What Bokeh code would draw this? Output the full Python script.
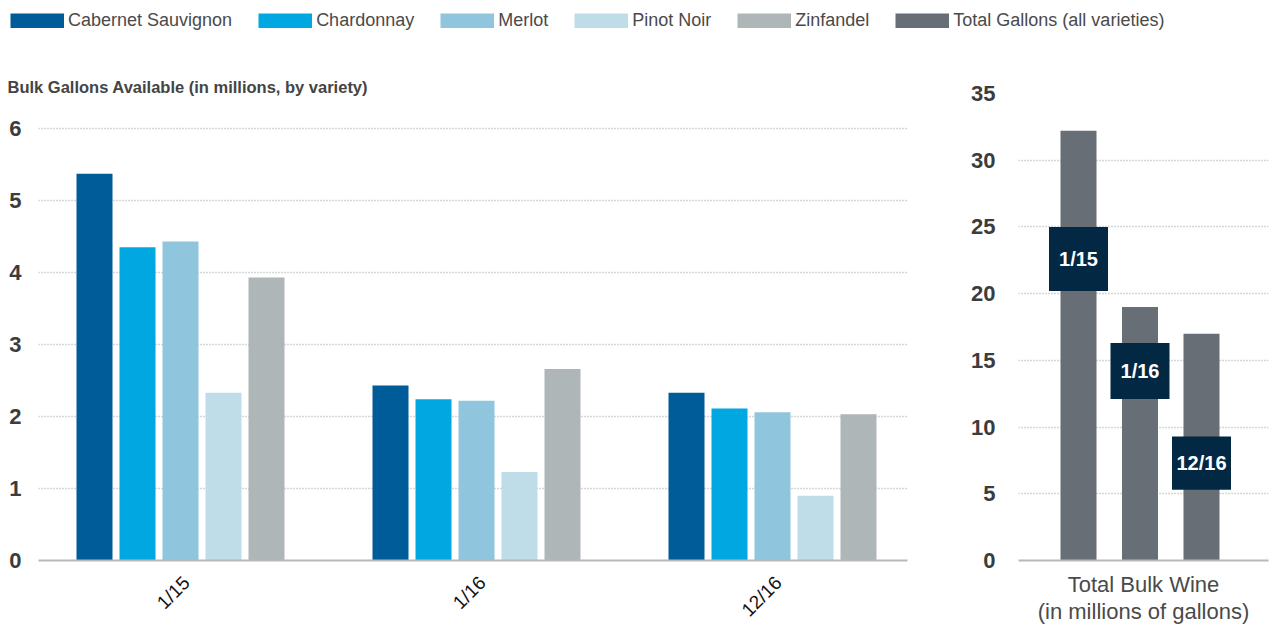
import numpy as np
from bokeh.plotting import figure
from bokeh.models import ColumnDataSource, Range1d, FixedTicker, Legend, LegendItem
from bokeh.layouts import column, row
from bokeh.embed import file_html
from bokeh.resources import INLINE
from bokeh.transform import dodge
from bokeh.core.properties import value

# ---------------- data ----------------
dates = ["1/15", "1/16", "12/16"]
varieties = ["Cabernet Sauvignon", "Chardonnay", "Merlot", "Pinot Noir", "Zinfandel"]
cabernet = [5.37, 2.43, 2.33]
chardonnay = [4.35, 2.24, 2.11]
merlot = [4.43, 2.22, 2.06]
pinot_noir = [2.33, 1.23, 0.90]
zinfandel = [3.93, 2.66, 2.03]
total_label = "Total Gallons (all varieties)"
total_gallons = [32.2, 19.0, 17.0]
left_ticks = [0, 1, 2, 3, 4, 5, 6]
right_ticks = [0, 5, 10, 15, 20, 25, 30, 35]
left_title = "Bulk Gallons Available (in millions, by variety)"
right_axis_title = "Total Bulk Wine\n(in millions of gallons)"

# ---------------- styles ----------------
FONT = "Liberation Sans"
colors = ["#005b99", "#00a7e1", "#8fc6dd", "#bfdde9", "#aeb6b8"]
total_color = "#676e75"
box_color = "#022844"
grid_color = "#a9afb2"
base_color = "#b4b9bb"
tick_color = "#3c3c3c"
text_color = "#4a4a4a"

# annotation boxes on the right chart (value units)
box_top = [25.0, 16.3, 9.3]
box_bottom = [20.2, 12.1, 5.3]

# ---------------- legend figure ----------------
series = [cabernet, chardonnay, merlot, pinot_noir, zinfandel, total_gallons]
leg = figure(width=1272, height=40, x_range=Range1d(100, 101), y_range=Range1d(100, 101),
             output_backend="svg", toolbar_location=None, min_border=0)
leg.axis.visible = False
leg.grid.visible = False
leg.outline_line_color = None
items = []
for name, c, vals in zip(varieties + [total_label], colors + [total_color], series):
    r = leg.line(x=list(range(len(vals))), y=vals, line_width=15, line_color=c,
                 line_cap="butt")
    items.append(LegendItem(label=name, renderers=[r]))
legend = Legend(items=items, orientation="horizontal", location="top_left", margin=10,
                padding=0, spacing=26, glyph_width=54, glyph_height=15, label_standoff=4,
                border_line_color=None, background_fill_alpha=0,
                label_text_font=FONT, label_text_font_size="18px",
                label_text_color=text_color)
leg.add_layout(legend, "center")

# ---------------- left chart ----------------
src = ColumnDataSource(dict(x=list(range(len(dates))), date=dates,
                            cab=cabernet, char=chardonnay, mer=merlot,
                            pin=pinot_noir, zin=zinfandel))
unit_l = 296.0
left = figure(width=938, height=600,
              x_range=Range1d((38 - 180) / unit_l, (907 - 180) / unit_l),
              y_range=Range1d(0, 6 + 35 / 72),
              output_backend="svg", toolbar_location=None,
              min_border_left=38, min_border_right=31, min_border_top=53, min_border_bottom=80)
bw = 36 / unit_l
step = 43 / unit_l
for i, (col, c) in enumerate(zip(["cab", "char", "mer", "pin", "zin"], colors)):
    left.vbar(x=dodge("x", (i - 2) * step), top=col, width=bw, source=src,
              fill_color=c, line_color=None)

left.outline_line_color = None
left.xgrid.visible = False
left.ygrid.grid_line_color = grid_color
left.ygrid.grid_line_dash = "1 2"
left.ygrid.grid_line_width = 1.5
left.ygrid.ticker = FixedTicker(ticks=left_ticks)

nudge = 0.02
xt = [round(i + nudge, 3) for i in range(len(dates))]
left.xaxis.ticker = FixedTicker(ticks=xt)
left.xaxis.major_label_overrides = {t: d for t, d in zip(xt, dates)}
left.xaxis.major_label_orientation = np.pi / 4
left.xaxis.major_tick_line_color = None
left.xaxis.minor_tick_line_color = None
left.xaxis.major_tick_out = 0
left.xaxis.major_tick_in = 0
left.xaxis.axis_line_color = base_color
left.xaxis.axis_line_width = 2
left.xaxis.major_label_text_font = FONT
left.xaxis.major_label_text_font_size = "19px"
left.xaxis.major_label_text_color = "#111111"
left.xaxis.major_label_standoff = 19

left.yaxis.ticker = FixedTicker(ticks=left_ticks)
left.yaxis.axis_line_color = None
left.yaxis.major_tick_line_color = None
left.yaxis.minor_tick_line_color = None
left.yaxis.major_tick_out = 0
left.yaxis.major_tick_in = 0
left.yaxis.major_label_text_font = FONT
left.yaxis.major_label_text_font_size = "22px"
left.yaxis.major_label_text_font_style = "bold"
left.yaxis.major_label_text_color = tick_color
left.yaxis.major_label_standoff = 17

left.title.text = left_title
left.title.text_font = FONT
left.title.text_font_size = "16.5px"
left.title.text_font_style = "bold"
left.title.text_color = "#444444"
left.title.align = "left"
left.title.offset = -31
left.title.standoff = -5

# ---------------- right chart ----------------
rsrc = ColumnDataSource(dict(x=list(range(len(dates))), date=dates, total=total_gallons,
                             bt=box_top, bb=box_bottom,
                             bm=[(a + b) / 2 for a, b in zip(box_top, box_bottom)]))
unit_r = 61.5
right = figure(width=334, height=600,
               x_range=Range1d((1018 - 1078) / unit_r, (1268 - 1078) / unit_r),
               y_range=Range1d(0, 35),
               output_backend="svg", toolbar_location=None,
               min_border_left=80, min_border_right=4, min_border_top=53, min_border_bottom=80)
right.vbar(x="x", top="total", width=36 / unit_r, source=rsrc,
           fill_color=total_color, line_color=None)
half = 29.5 / unit_r
right.quad(left=dodge("x", -half), right=dodge("x", half), top="bt", bottom="bb",
           source=rsrc, fill_color=box_color, line_color=None)
right.text(x="x", y="bm", text="date", source=rsrc, text_align="center",
           text_baseline="middle", text_color="white", text_font_size="20px",
           text_font_style="bold", text_font=value(FONT))

right.outline_line_color = None
right.xgrid.visible = False
right.ygrid.grid_line_color = grid_color
right.ygrid.grid_line_dash = "1 2"
right.ygrid.grid_line_width = 1.5
right.ygrid.ticker = FixedTicker(ticks=right_ticks)

right.xaxis.ticker = FixedTicker(ticks=[])
right.xaxis.major_tick_line_color = None
right.xaxis.minor_tick_line_color = None
right.xaxis.major_tick_out = 0
right.xaxis.major_tick_in = 0
right.xaxis.axis_line_color = base_color
right.xaxis.axis_line_width = 2
right.xaxis.axis_label = right_axis_title
right.xaxis.axis_label_text_font = FONT
right.xaxis.axis_label_text_font_size = "22px"
right.xaxis.axis_label_text_font_style = "normal"
right.xaxis.axis_label_text_color = text_color
right.xaxis.axis_label_text_line_height = 1.1
right.xaxis.axis_label_standoff = 11

right.yaxis.ticker = FixedTicker(ticks=right_ticks)
right.yaxis.axis_line_color = None
right.yaxis.major_tick_line_color = None
right.yaxis.minor_tick_line_color = None
right.yaxis.major_tick_out = 0
right.yaxis.major_tick_in = 0
right.yaxis.major_label_text_font = FONT
right.yaxis.major_label_text_font_size = "22px"
right.yaxis.major_label_text_font_style = "bold"
right.yaxis.major_label_text_color = tick_color
right.yaxis.major_label_standoff = 23

layout = column(leg, row(left, right))
html = file_html(layout, INLINE)
html = html.replace("</head>", "<style>html, body { overflow: hidden; }</style>\n</head>", 1)
open("out.html", "w").write(html)
